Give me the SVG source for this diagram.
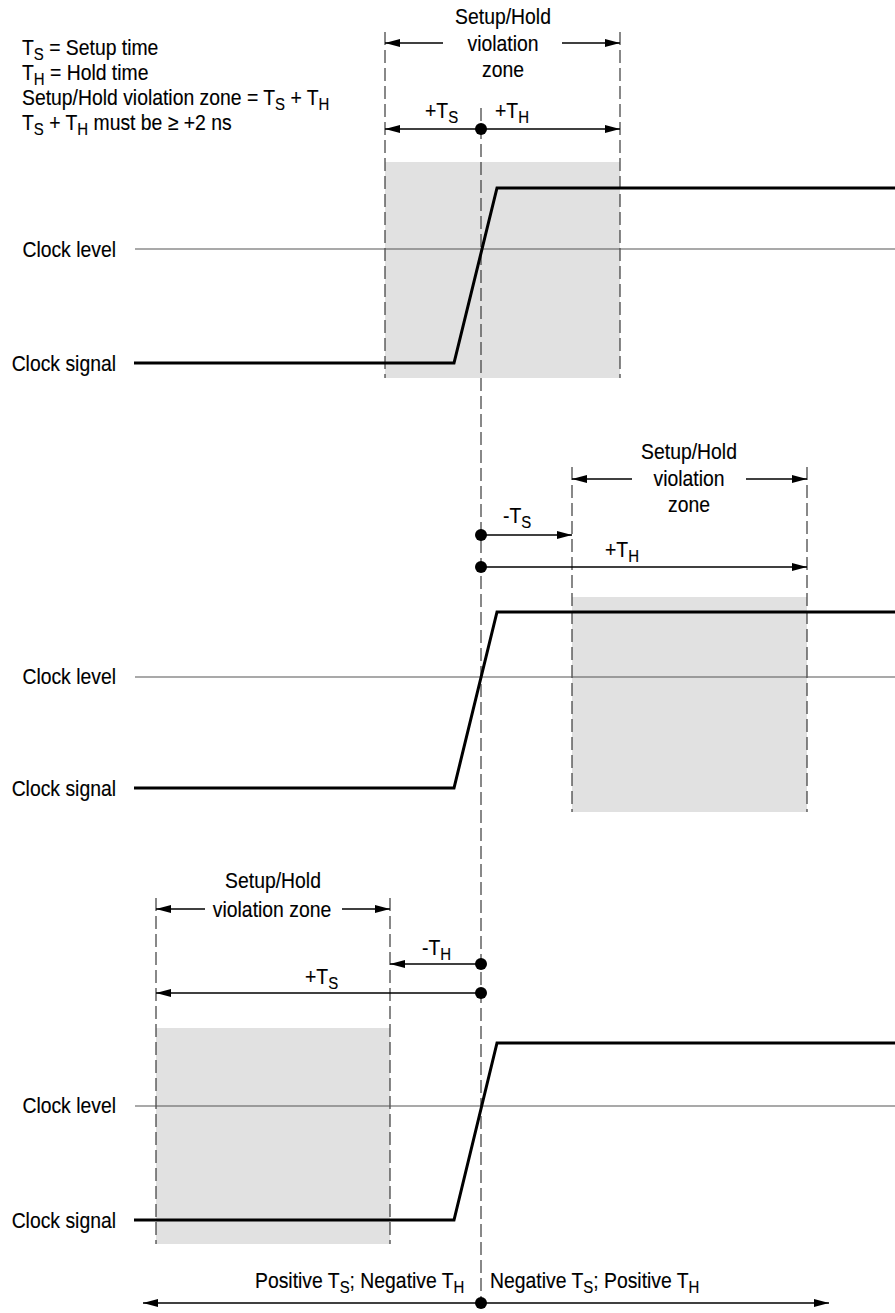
<svg xmlns="http://www.w3.org/2000/svg" width="895" height="1313" viewBox="0 0 895 1313">
<defs>
<style>
.t{font-family:"Liberation Sans",Arial,sans-serif;font-size:22px;fill:#000;stroke:#000;stroke-width:0.15}
.m{text-anchor:middle}
.e{text-anchor:end}
.s{font-size:17px}
.dash{stroke:#3a3a3a;stroke-width:1.2;stroke-dasharray:13 5;fill:none}
.sig{stroke:#000;stroke-width:3;fill:none;stroke-linejoin:miter}
.lvl{stroke:#555;stroke-width:1.1}
.zone{fill:#e1e1e1}
.dim{stroke:#000;stroke-width:1.5;fill:none}
.arr{marker-end:url(#ah)}
.arr2{marker-start:url(#ah);marker-end:url(#ah)}
</style>
<marker id="ah" markerUnits="userSpaceOnUse" markerWidth="16" markerHeight="8" refX="15" refY="4" orient="auto-start-reverse">
<path d="M0,0 L15,4 L0,8 z" fill="#000"/>
</marker>
</defs>
<rect width="895" height="1313" fill="#fff"/>

<g id="legend" class="t">
<text transform="matrix(0.88 0 0 1 22 55)">T<tspan class="s" dy="5">S</tspan><tspan dy="-5"> = Setup time</tspan></text>
<text transform="matrix(0.88 0 0 1 22 80)">T<tspan class="s" dy="5">H</tspan><tspan dy="-5"> = Hold time</tspan></text>
<text transform="matrix(0.88 0 0 1 22 105)">Setup/Hold violation zone = T<tspan class="s" dy="5">S</tspan><tspan dy="-5"> + T</tspan><tspan class="s" dy="5">H</tspan></text>
<text transform="matrix(0.88 0 0 1 22 130)">T<tspan class="s" dy="5">S</tspan><tspan dy="-5"> + T</tspan><tspan class="s" dy="5">H</tspan><tspan dy="-5"> must be  ≥  +2 ns</tspan></text>
</g>

<g id="zones">
<rect class="zone" x="385" y="162" width="235" height="216"/>
<rect class="zone" x="572" y="597" width="235" height="215"/>
<rect class="zone" x="156" y="1028" width="234" height="216"/>
</g>

<g id="connectors">
<line class="dash" x1="385" y1="32" x2="385" y2="378"/>
<line class="dash" x1="620" y1="32" x2="620" y2="378"/>
<line class="dash" x1="572" y1="467" x2="572" y2="812"/>
<line class="dash" x1="807" y1="467" x2="807" y2="812"/>
<line class="dash" x1="156" y1="898" x2="156" y2="1244"/>
<line class="dash" x1="390" y1="898" x2="390" y2="1244"/>
<line class="dash" x1="481" y1="108" x2="481" y2="1303"/>

<line class="lvl" x1="135" y1="249" x2="895" y2="249"/>
<line class="lvl" x1="135" y1="677" x2="895" y2="677"/>
<line class="lvl" x1="135" y1="1106" x2="895" y2="1106"/>

<polyline class="sig" points="134,363 454,363 497,188 895,188"/>
<polyline class="sig" points="134,788 454,788 497,612 895,612"/>
<polyline class="sig" points="134,1220 454,1220 497,1043 895,1043"/>

<line class="dim arr" x1="443" y1="43" x2="385" y2="43"/>
<line class="dim arr" x1="562" y1="43" x2="620" y2="43"/>
<line class="dim arr" x1="481" y1="129" x2="385" y2="129"/>
<line class="dim arr" x1="481" y1="129" x2="620" y2="129"/>

<line class="dim arr" x1="632" y1="479" x2="572" y2="479"/>
<line class="dim arr" x1="746" y1="479" x2="807" y2="479"/>
<line class="dim arr" x1="481" y1="535" x2="572" y2="535"/>
<line class="dim arr" x1="481" y1="567" x2="807" y2="567"/>

<line class="dim arr" x1="205" y1="909" x2="156" y2="909"/>
<line class="dim arr" x1="342" y1="909" x2="390" y2="909"/>
<line class="dim arr" x1="481" y1="964" x2="390" y2="964"/>
<line class="dim arr" x1="481" y1="993" x2="156" y2="993"/>

<line class="dim arr2" x1="143" y1="1303" x2="829" y2="1303"/>

<g fill="#000">
<circle cx="481" cy="129" r="6"/>
<circle cx="481" cy="535" r="6"/>
<circle cx="481" cy="567" r="6"/>
<circle cx="481" cy="964" r="6"/>
<circle cx="481" cy="993" r="6"/>
<circle cx="481" cy="1303" r="6"/>
</g>
</g>

<g id="section1" class="t">
<text class="m" transform="matrix(0.88 0 0 1 503 24)">Setup/Hold</text>
<text class="m" transform="matrix(0.88 0 0 1 503 51)">violation</text>
<text class="m" transform="matrix(0.88 0 0 1 503 77)">zone</text>
<text transform="matrix(0.88 0 0 1 425 118)">+T<tspan class="s" dy="5">S</tspan></text>
<text transform="matrix(0.88 0 0 1 495 118)">+T<tspan class="s" dy="5">H</tspan></text>
<text class="e" transform="matrix(0.88 0 0 1 116 257)">Clock level</text>
<text class="e" transform="matrix(0.88 0 0 1 116 371)">Clock signal</text>
</g>

<g id="section2" class="t">
<text class="m" transform="matrix(0.88 0 0 1 689 459)">Setup/Hold</text>
<text class="m" transform="matrix(0.88 0 0 1 689 486)">violation</text>
<text class="m" transform="matrix(0.88 0 0 1 689 512)">zone</text>
<text transform="matrix(0.88 0 0 1 503 523)">-T<tspan class="s" dy="5">S</tspan></text>
<text transform="matrix(0.88 0 0 1 605 557)">+T<tspan class="s" dy="5">H</tspan></text>
<text class="e" transform="matrix(0.88 0 0 1 116 684)">Clock level</text>
<text class="e" transform="matrix(0.88 0 0 1 116 796)">Clock signal</text>
</g>

<g id="section3" class="t">
<text class="m" transform="matrix(0.88 0 0 1 273 888)">Setup/Hold</text>
<text class="m" transform="matrix(0.88 0 0 1 272 917)">violation zone</text>
<text transform="matrix(0.88 0 0 1 422 955)">-T<tspan class="s" dy="5">H</tspan></text>
<text transform="matrix(0.88 0 0 1 305 984)">+T<tspan class="s" dy="5">S</tspan></text>
<text class="e" transform="matrix(0.88 0 0 1 116 1113)">Clock level</text>
<text class="e" transform="matrix(0.88 0 0 1 116 1228)">Clock signal</text>
</g>

<g id="bottom" class="t">
<text transform="matrix(0.88 0 0 1 255 1288)">Positive T<tspan class="s" dy="5">S</tspan><tspan dy="-5">; Negative T</tspan><tspan class="s" dy="5">H</tspan></text>
<text transform="matrix(0.88 0 0 1 490 1288)">Negative T<tspan class="s" dy="5">S</tspan><tspan dy="-5">; Positive T</tspan><tspan class="s" dy="5">H</tspan></text>
</g>
</svg>
